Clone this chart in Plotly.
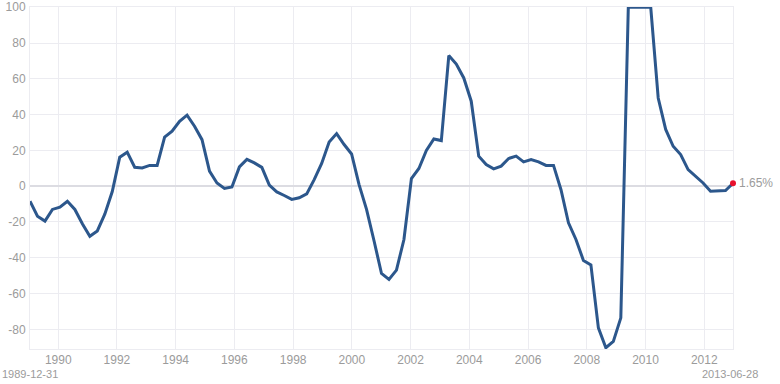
import pandas as pd
import plotly.graph_objects as go

start_date = "1989-01-15"
end_date = "2012-12-24"

values = [
    -8.4, -16.8, -19.5, -13.0, -11.7, -8.4, -13.0, -21.0, -28.0, -25.0,
    -15.6, -3.0, 16.2, 19.0, 10.6, 10.2, 11.6, 11.6, 27.4, 30.7,
    36.3, 39.7, 33.5, 26.0, 8.4, 1.8, -1.3, -0.4, 10.8, 15.0,
    13.0, 10.5, 0.6, -3.2, -5.2, -7.4, -6.5, -4.3, 3.7, 12.7,
    24.7, 29.4, 23.3, 18.0, 0.9, -13.0, -30.5, -48.8, -52.1, -46.9,
    -29.8, 4.3, 9.9, 20.0, 26.4, 25.5, 73.0, 68.3, 60.5, 47.5,
    16.8, 12.1, 9.7, 11.2, 15.5, 16.8, 13.6, 14.9, 13.6, 11.6,
    11.6, -2.0, -20.5, -29.8, -41.5, -44.0, -79.2, -90.3, -86.8, -73.6,
    100.0, 100.0, 100.0, 100.0, 49.3, 31.7, 22.3, 17.7, 9.3, 5.6,
    1.8, -2.8, -2.4, -2.4, 1.65,
]
dates = pd.date_range(start_date, end_date, periods=len(values))

y_ticks = [-80, -60, -40, -20, 0, 20, 40, 60, 80, 100]
y_tick_text = [str(v) for v in y_ticks]
x_tick_years = [1990, 1992, 1994, 1996, 1998, 2000, 2002, 2004, 2006, 2008, 2010, 2012]
x_tick_vals = [pd.Timestamp(f"{y}-01-01") for y in x_tick_years]
x_tick_text = [str(y) for y in x_tick_years]

left_label = "1989-12-31"
right_label = "2013-06-28"
last_label = "1.65%"

grey = "#9b9b9b"
grid = "#ececf1"

fig = go.Figure()
fig.add_trace(go.Scatter(
    x=dates, y=values, mode="lines",
    line=dict(color="#2c578c", width=3),
    hoverinfo="skip", showlegend=False,
))
fig.add_trace(go.Scatter(
    x=[dates[-1]], y=[values[-1]], mode="markers",
    marker=dict(color="#e8102c", size=6, line=dict(width=0)),
    showlegend=False, cliponaxis=False,
))

fig.add_annotation(x=dates[-1], y=values[-1], text=last_label, showarrow=False,
                   xanchor="left", yanchor="middle", xshift=4,
                   font=dict(size=12, color=grey))
fig.add_annotation(xref="paper", yref="paper", x=-0.0427, y=-0.073, text=left_label,
                   showarrow=False, xanchor="left", yanchor="middle",
                   font=dict(size=11, color=grey))
fig.add_annotation(xref="paper", yref="paper", x=1.0384, y=-0.073, text=right_label,
                   showarrow=False, xanchor="right", yanchor="middle",
                   font=dict(size=11, color=grey))

fig.update_layout(
    width=780, height=384,
    margin=dict(l=30, r=47, t=7, b=35),
    paper_bgcolor="white", plot_bgcolor="white",
    font=dict(family="Liberation Sans, Arial, sans-serif", size=12, color=grey),
)
fig.update_xaxes(
    range=[dates[0], dates[-1]], automargin=False, layer="below traces",
    tickvals=x_tick_vals, ticktext=x_tick_text,
    showgrid=True, gridcolor=grid, gridwidth=1,
    showline=True, linecolor=grid, linewidth=1, mirror=True,
    zeroline=False, ticks="", tickfont=dict(size=12, color=grey),
)
fig.update_yaxes(
    range=[-91, 100.15], automargin=False, layer="below traces",
    tickvals=y_ticks, ticktext=y_tick_text, ticklabeloverflow="allow",
    showgrid=True, gridcolor=grid, gridwidth=1,
    showline=True, linecolor=grid, linewidth=1, mirror=True,
    zeroline=True, zerolinecolor="#dcdce2", zerolinewidth=2,
    ticks="", tickfont=dict(size=12, color=grey),
    ticklabelstandoff=1,
)

fig.write_html("out.html")
